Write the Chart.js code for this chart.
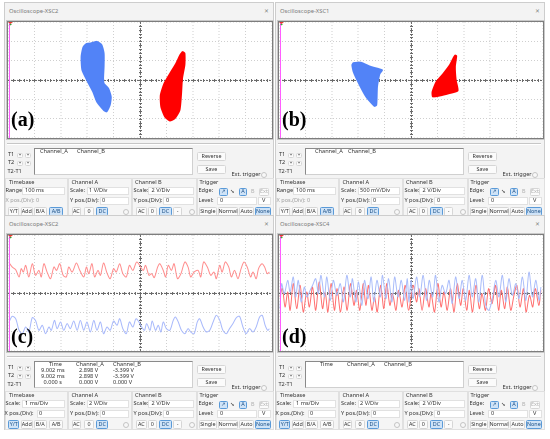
<!DOCTYPE html>
<html>
<head>
<meta charset="utf-8">
<script src="https://cdn.jsdelivr.net/npm/chart.js@4.4.1/dist/chart.umd.min.js"></script>
<style>
body { margin:0; background:#fff; width:550px; height:439px; overflow:hidden; font-family:"Noto Sans","DejaVu Sans",sans-serif; }
#root { position:relative; width:550px; height:439px; }
.panel { position:absolute; width:276px; height:219px; }
.win { position:absolute; box-sizing:border-box; background:#f3f3f3; border:1px solid #cdcdcd; }
.t { position:absolute; font-size:5.6px; line-height:1; color:#333; white-space:nowrap; }
.ttl { color:#7a7a7a; font-size:5.8px; }
.gray { color:#a0a0a0; }
.box { position:absolute; box-sizing:border-box; background:#fff; border:1px solid #e1e1e1; }
.grp { position:absolute; box-sizing:border-box; border:1px solid #e0e0e0; background:#f5f5f5; }
.read { position:absolute; box-sizing:border-box; background:#fff; border:1px solid #d0d0d0; border-left:1.5px solid #8a8a8a; border-top:1.5px solid #8a8a8a; }
.btn { position:absolute; box-sizing:border-box; background:#fbfbfb; border:1px solid #d6d6d6; border-radius:1.5px; font-size:5.4px; line-height:1; color:#333; display:flex; align-items:center; justify-content:center; white-space:nowrap; }
.btn.on { background:#cfe3f7; border-color:#5a9ad8; color:#1b4f86; }
.btn.off { color:#b0b0b0; }
.btn.flat { border-color:transparent; background:transparent; }
.circ { position:absolute; box-sizing:border-box; width:6px; height:6px; border-radius:50%; border:1px solid #c4c4c4; background:#f8f8f8; }
.sep { position:absolute; height:0; border-top:1px solid #c6c6c6; border-bottom:1px solid #fff; }
.scr { position:absolute; background:#fff; border:1px solid #7d7d7d; box-shadow:0 0 0 1px #c9c9c9; }
.scr canvas { display:block; }
.letter { position:absolute; font-family:"Liberation Serif","DejaVu Serif",serif; font-weight:bold; font-size:20px; line-height:1; color:#000; }
</style>
</head>
<body>
<div id="root"></div>
<script>
// (a) phase portrait, XSC2 - outlines in screen divisions
var aBlueX = [-1.89, -1.64, -1.45, -1.36, -1.36, -1.38, -1.36, -1.19, -1.09, -1.13, -1.26, -1.38, -1.64, -1.79, -1.99, -2.20, -2.23, -2.16, -2.04];
var aBlueY = [1.91, 2.0, 1.83, 1.39, 0.70, 0.09, -0.17, -0.43, -0.87, -1.30, -1.65, -1.57, -1.13, -0.61, -0.09, 0.52, 1.22, 1.70, 1.88];
var aRedX = [1.61, 1.70, 1.70, 1.61, 1.57, 1.51, 1.32, 1.13, 0.94, 0.79, 0.77, 0.91, 1.13, 1.36, 1.51];
var aRedY = [1.48, 1.39, 0.78, 0.09, -0.78, -1.57, -2.0, -2.12, -1.91, -1.39, -0.78, -0.17, 0.35, 0.87, 1.30];

// (b) phase portrait, XSC1
var bBlueX = [-2.19, -1.90, -1.52, -1.08, -1.18, -1.27, -1.30, -1.39, -1.71, -1.99, -2.19, -2.24];
var bBlueY = [0.90, 0.92, 0.70, 0.52, 0.31, -0.35, -1.30, -1.36, -0.87, -0.17, 0.43, 0.78];
var bRedX = [1.67, 1.73, 1.68, 1.71, 1.78, 1.46, 1.08, 0.82, 0.80, 0.95, 1.20, 1.46, 1.61];
var bRedY = [1.30, 1.25, 0.70, 0, -0.56, -0.70, -0.83, -0.87, -0.61, -0.09, 0.31, 0.78, 1.18];

// (c) time series, ms / V
var cRedT = [0.04, 0.16, 0.29, 0.42, 0.50, 0.58, 0.67, 0.79, 0.92, 1.04, 1.17, 1.26, 1.36, 1.48, 1.61, 1.74, 1.84, 1.96, 2.09, 2.21, 2.30, 2.43, 2.59, 2.72, 2.87, 2.97, 3.06, 3.18, 3.28, 3.41, 3.50, 3.62, 3.75, 3.87, 4.00, 4.10, 4.23, 4.35, 4.48, 4.60, 4.73, 4.88,
  5.12, 5.21, 5.34, 5.44, 5.54, 5.67, 5.75, 5.88, 5.97, 6.07, 6.19, 6.29, 6.42, 6.55, 6.70, 6.82, 6.92, 7.05, 7.20, 7.30, 7.41, 7.55, 7.68, 7.80, 7.89, 8.02, 8.11, 8.23, 8.36, 8.46, 8.58, 8.71, 8.83, 8.94, 9.06, 9.19, 9.28, 9.40, 9.49, 9.62, 9.72, 9.82, 9.90];
var cRedV = [3.14, 2.69, 2.41, 1.66, 2.52, 2.17, 2.86, 1.66, 3.03, 1.83, 2.34, 1.66, 3.03, 2.17, 1.48, 2.69, 2.34, 3.03, 1.83, 1.66, 2.69, 2.17, 3.10, 2.34, 1.66, 2.69, 2.0, 3.03, 1.66, 2.34, 1.83, 3.10, 2.07, 1.48, 2.52, 2.17, 3.03, 2.0, 1.66, 2.86, 2.34, 3.21,
  2.34, 2.86, 1.83, 2.0, 1.59, 2.69, 3.03, 2.34, 1.66, 2.86, 2.34, 3.03, 1.48, 2.0, 3.21, 2.69, 1.66, 2.17, 2.34, 1.66, 3.21, 2.69, 1.83, 2.17, 1.48, 2.86, 2.17, 3.21, 2.69, 1.66, 2.34, 1.48, 2.52, 3.21, 2.69, 1.66, 2.17, 1.48, 2.52, 3.03, 2.69, 2.0, 2.17];
var cBlueT = [0.04, 0.16, 0.29, 0.42, 0.54, 0.67, 0.79, 0.92, 1.04, 1.17, 1.30, 1.42, 1.55, 1.64, 1.76, 1.86, 1.99, 2.11, 2.24, 2.36, 2.49, 2.62, 2.74, 2.87, 2.99, 3.12, 3.25, 3.37, 3.50, 3.62, 3.75, 3.87, 4.00, 4.13, 4.23, 4.35, 4.48, 4.60, 4.73, 4.86,
  5.16, 5.25, 5.38, 5.46, 5.59, 5.69, 5.79, 5.88, 6.00, 6.13, 6.26, 6.34, 6.45, 6.57, 6.70, 6.82, 6.92, 7.05, 7.17, 7.26, 7.39, 7.51, 7.64, 7.77, 7.89, 8.02, 8.14, 8.27, 8.39, 8.52, 8.65, 8.77, 8.90, 9.02, 9.15, 9.28, 9.40, 9.53, 9.63, 9.74, 9.84, 9.90];
var cBlueV = [-3.0, -2.41, -2.66, -3.86, -4.21, -3.52, -4.03, -2.55, -2.83, -3.86, -3.34, -4.21, -3.52, -3.86, -2.83, -3.69, -3.0, -3.86, -3.17, -3.69, -2.90, -3.86, -2.83, -3.86, -3.0, -4.03, -2.83, -3.86, -3.0, -4.21, -3.52, -3.86, -2.90, -3.34, -2.66, -3.69, -4.21, -3.0, -3.52, -2.66,
  -3.86, -3.17, -3.86, -2.90, -3.86, -3.34, -4.03, -3.0, -3.69, -3.86, -2.83, -2.48, -3.0, -3.86, -4.21, -3.69, -4.03, -4.21, -3.0, -2.66, -3.52, -4.03, -3.86, -3.0, -2.31, -2.83, -3.86, -4.21, -3.69, -3.17, -2.55, -2.41, -3.52, -4.21, -3.69, -4.03, -3.52, -2.48, -2.31, -3.34, -3.86, -3.69];

// (d) time series, ms / V
var dRedT = [0.04, 0.13, 0.23, 0.33, 0.42, 0.54, 0.67, 0.80, 0.92, 1.05, 1.15, 1.27, 1.39, 1.52, 1.65, 1.75, 1.85, 1.97, 2.10, 2.20, 2.33, 2.46, 2.58, 2.71, 2.84, 2.94, 3.06, 3.19, 3.29, 3.39, 3.52, 3.62, 3.72, 3.85, 3.97, 4.08, 4.20, 4.30, 4.43, 4.53, 4.66, 4.78, 4.91,
  5.08, 5.21, 5.30, 5.42, 5.55, 5.68, 5.76, 5.89, 6.02, 6.14, 6.25, 6.37, 6.50, 6.63, 6.75, 6.88, 6.98, 7.11, 7.21, 7.33, 7.46, 7.59, 7.69, 7.82, 7.94, 8.07, 8.20, 8.32, 8.42, 8.55, 8.65, 8.78, 8.90, 9.01, 9.13, 9.26, 9.36, 9.49, 9.61, 9.71, 9.84, 9.92];
var dRedV = [-0.41, 0.45, -1.45, 0.10, -1.79, 0.97, -1.62, 0.79, -1.97, 0.10, -1.45, 0.62, -1.79, 1.14, -1.62, 0.10, -1.97, 0.97, -1.79, 0.45, -1.97, 0.62, -1.79, 0.97, -1.28, 0.28, -1.79, 0.97, -1.28, 0.79, -1.79, -0.41, -1.97, 0.79, -1.62, 0.97, -1.28, -0.07, -1.79, 0.28, -1.45, 0.79, -1.79,
  0.79, -0.93, 0.45, -1.79, 0.45, -1.45, -0.07, -1.97, 0.97, -1.45, 0.10, -1.79, 0.45, -1.97, 0.97, -1.28, 0.45, -1.79, 0.28, -1.97, 0.79, -1.62, -0.07, -1.79, 0.45, -1.10, 0.79, -1.79, 0.28, -1.62, 0.62, -1.79, -0.24, 0.79, -1.45, 0.45, -1.97, -0.24, -1.45, 0.45, -1.28, 0.28];
var dBlueT = [0.04, 0.10, 0.20, 0.33, 0.42, 0.54, 0.63, 0.73, 0.84, 0.96, 1.05, 1.18, 1.27, 1.39, 1.49, 1.59, 1.72, 1.81, 1.94, 2.06, 2.19, 2.32, 2.44, 2.57, 2.70, 2.78, 2.91, 3.01, 3.14, 3.24, 3.37, 3.49, 3.59, 3.71, 3.84, 3.92, 4.05, 4.15, 4.28, 4.38, 4.51, 4.63, 4.76, 4.86, 4.92,
  5.00, 5.08, 5.21, 5.33, 5.46, 5.59, 5.69, 5.82, 5.93, 6.06, 6.18, 6.31, 6.44, 6.56, 6.69, 6.82, 6.94, 7.07, 7.20, 7.32, 7.45, 7.57, 7.70, 7.83, 7.95, 8.08, 8.21, 8.33, 8.46, 8.59, 8.71, 8.84, 8.97, 9.09, 9.22, 9.35, 9.47, 9.60, 9.73, 9.85, 9.92];
var dBlueV = [-1.62, 0.97, -0.07, 1.31, 0.10, 1.66, -0.41, 1.31, -0.93, 0.62, -0.41, 0.28, 0.79, 1.48, -0.07, 1.83, -0.41, 1.66, -0.76, 1.31, -0.24, 0.97, -0.93, 1.83, -0.41, 1.48, -0.93, 1.14, -1.28, 1.31, -0.59, 1.66, -0.93, 1.31, -0.41, 1.83, -0.59, 1.48, -0.93, 1.66, -0.41, 1.31, -0.76, 1.48, -0.93,
  1.31, -0.59, 1.66, -0.41, 1.83, -0.76, 1.31, -0.41, 1.83, -0.93, 0.79, -0.07, 1.31, -1.10, 1.66, -0.59, 1.31, -0.76, 1.83, -0.41, 1.48, -0.93, 1.83, -1.28, -1.79, -0.59, 1.31, -0.41, 1.83, -0.93, 1.48, -0.24, 0.97, -0.59, 1.66, -0.76, 2.17, -0.41, 1.31, -0.76, 0.62];

// instrument readouts
var panelIds = ["a", "b", "c", "d"];
var titles = ["Oscilloscope-XSC2", "Oscilloscope-XSC1", "Oscilloscope-XSC2", "Oscilloscope-XSC4"];
var timebase = ["100 ms", "100 ms", "1 ms/Div", "1 ms/Div"];
var scaleA = ["1  V/Div", "500 mV/Div", "2  V/Div", "2  V/Div"];
var scaleB = ["2  V/Div", "2  V/Div", "2  V/Div", "2  V/Div"];
var modes = ["A/B", "A/B", "Y/T", "Y/T"];

function pts(xs, ys) {
  return xs.map(function (x, i) { return { x: x, y: ys[i] }; });
}
function closed(xs, ys) {
  var p = pts(xs, ys);
  p.push(p[0]);
  return p;
}

function put(p, cls, x, y, w, h, txt) {
  var d = document.createElement("div");
  d.className = cls;
  d.style.left = x + "px";
  d.style.top = y + "px";
  if (w != null) d.style.width = w + "px";
  if (h != null) d.style.height = h + "px";
  if (txt != null) d.textContent = txt;
  p.appendChild(d);
  return d;
}

// screen furniture: centre cross with small ticks, cursor line
var scopeDecor = {
  id: "scopeDecor",
  beforeDatasetsDraw: function (chart) {
    var ctx = chart.ctx, xs = chart.scales.x, ys = chart.scales.y;
    var cx = Math.round(xs.getPixelForValue((xs.min + xs.max) / 2)) + 0.5;
    var cy = Math.round(ys.getPixelForValue((ys.min + ys.max) / 2)) + 0.5;
    ctx.save();
    ctx.strokeStyle = "#6b6b6b";
    ctx.lineWidth = 1;
    ctx.setLineDash([2, 1]);
    ctx.beginPath();
    ctx.moveTo(xs.left, cy); ctx.lineTo(xs.right, cy);
    ctx.moveTo(cx, ys.top); ctx.lineTo(cx, ys.bottom);
    ctx.stroke();
    ctx.setLineDash([]);
    ctx.beginPath();
    var i, v;
    for (i = 1; i < 50; i++) {
      v = Math.round(xs.getPixelForValue(xs.min + i * (xs.max - xs.min) / 50)) + 0.5;
      ctx.moveTo(v, cy - 1.5); ctx.lineTo(v, cy + 1.5);
    }
    for (i = 1; i < 30; i++) {
      v = Math.round(ys.getPixelForValue(ys.min + i * (ys.max - ys.min) / 30)) + 0.5;
      ctx.moveTo(cx - 1.5, v); ctx.lineTo(cx + 1.5, v);
    }
    ctx.stroke();
    ctx.restore();
  },
  afterDraw: function (chart) {
    var ctx = chart.ctx, a = chart.chartArea;
    ctx.save();
    ctx.strokeStyle = "#ff5cff";
    ctx.lineWidth = 1;
    ctx.beginPath();
    ctx.moveTo(a.left + 1.5, a.top); ctx.lineTo(a.left + 1.5, a.bottom);
    ctx.stroke();
    ctx.fillStyle = "#e23a2a";
    ctx.beginPath(); ctx.moveTo(a.left, a.top); ctx.lineTo(a.left + 5, a.top); ctx.lineTo(a.left + 2.5, a.top + 2); ctx.fill();
    ctx.fillStyle = "#3aa03a";
    ctx.beginPath(); ctx.moveTo(a.left + 1, a.top + 2); ctx.lineTo(a.left + 4, a.top + 2); ctx.lineTo(a.left + 2.5, a.top + 3.5); ctx.fill();
    ctx.restore();
  }
};

function makeScope(canvas, datasets, xr, yr) {
  var gridOpt = { color: "#cfcfcf", lineWidth: 1, drawTicks: false };
  new Chart(canvas, {
    type: "line",
    data: { datasets: datasets },
    options: {
      animation: false,
      responsive: false,
      devicePixelRatio: 2,
      layout: { padding: 0 },
      plugins: { legend: { display: false }, tooltip: { enabled: false } },
      elements: { point: { radius: 0 } },
      scales: {
        x: { type: "linear", min: xr[0], max: xr[1], ticks: { display: false, stepSize: xr[2] }, grid: gridOpt, border: { display: false, dash: [1, 2] } },
        y: { type: "linear", min: yr[0], max: yr[1], ticks: { display: false, stepSize: yr[2] }, grid: gridOpt, border: { display: false, dash: [1, 2] } }
      }
    },
    plugins: [scopeDecor]
  });
}

function blob(data, color) {
  return { data: data, borderColor: color, backgroundColor: color, borderWidth: 1, fill: "shape", tension: 0.2 };
}
function trace(data, color) {
  return { data: data, borderColor: color, borderWidth: 1, fill: false, tension: 0.3 };
}

var offsets = [[0, 0], [271, 0], [0, 213], [271, 213]];
var root = document.getElementById("root");

panelIds.forEach(function (id, k) {
  var p = document.createElement("div");
  p.className = "panel";
  p.style.left = offsets[k][0] + "px";
  p.style.top = offsets[k][1] + "px";
  root.appendChild(p);

  put(p, "win", 4, 2, 270, 215);
  put(p, "t ttl", 9, 9, null, null, titles[k]);
  put(p, "t ttl", 264, 8.5, null, null, "\u2715");

  // screen
  var scr = put(p, "scr", 7, 21, 264, 116);
  var cv = document.createElement("canvas");
  cv.width = 264; cv.height = 116;
  cv.style.width = "264px"; cv.style.height = "116px";
  scr.appendChild(cv);
  put(p, "letter", 11, k < 2 ? 109 : 113, null, null, "(" + id + ")");

  put(p, "sep", 7, 142.5, 263, null);

  // cursor readout block
  put(p, "t", 8, 152.3, null, null, "T1");
  put(p, "t", 8, 159.8, null, null, "T2");
  put(p, "t", 7.5, 168.8, null, null, "T2-T1");
  [[17, 152.5], [25, 152.5], [17, 160.5], [25, 160.5]].forEach(function (q) {
    put(p, "btn", q[0], q[1], 6, 5.5, "\u2022");
  });
  put(p, "read", 34, 148, 159, 27);
  if (k === 0 || k === 1) {
    put(p, "t", k === 0 ? 40 : 44, 149, null, null, "Channel_A");
    put(p, "t", 77, 149, null, null, "Channel_B");
  } else {
    put(p, "t", 49, 148.8, null, null, "Time");
    put(p, "t", 76, 148.8, null, null, "Channel_A");
    put(p, "t", 113, 148.8, null, null, "Channel_B");
    if (k === 2) {
      put(p, "t", 41, 154.5, null, null, "9.002 ms");
      put(p, "t", 79, 154.5, null, null, "2.898 V");
      put(p, "t", 113, 154.5, null, null, "-3.399 V");
      put(p, "t", 41, 160.8, null, null, "9.002 ms");
      put(p, "t", 79, 160.8, null, null, "2.898 V");
      put(p, "t", 113, 160.8, null, null, "-3.399 V");
      put(p, "t", 43.5, 167.2, null, null, "0.000 s");
      put(p, "t", 79, 167.2, null, null, "0.000 V");
      put(p, "t", 113, 167.2, null, null, "0.000 V");
    }
  }
  put(p, "btn", 197, 151.5, 29, 9.5, "Reverse");
  put(p, "btn", 197, 165, 29, 9, "Save");
  put(p, "t", 231.5, 172.3, null, null, "Ext. trigger");
  put(p, "circ", 260.5, 171.5);

  // control groups
  put(p, "grp", 4.5, 178, 63, 39);
  put(p, "grp", 67.5, 178, 64, 39);
  put(p, "grp", 131.5, 178, 65, 39);
  put(p, "grp", 196.5, 178, 77, 39);
  put(p, "t", 9, 180.2, null, null, "Timebase");
  put(p, "t", 71.5, 180.2, null, null, "Channel A");
  put(p, "t", 135, 180.2, null, null, "Channel B");
  put(p, "t", 199.5, 180.2, null, null, "Trigger");

  put(p, "t", 5.5, 188.3, null, null, k < 2 ? "Range:" : "Scale:");
  put(p, "box", 21.7, 186.7, 43.3, 8.3);
  put(p, "t", 25, 188.3, null, null, timebase[k]);
  put(p, "t", 70, 188.3, null, null, "Scale:");
  put(p, "box", 87.3, 186.7, 42, 8.3);
  put(p, "t", 89, 188.3, null, null, scaleA[k]);
  put(p, "t", 133.5, 188.3, null, null, "Scale:");
  put(p, "box", 148, 186.7, 46, 8.3);
  put(p, "t", 151.5, 188.3, null, null, scaleB[k]);
  put(p, "t", 198.5, 188.3, null, null, "Edge:");
  put(p, "btn on", 219, 188, 8.7, 8, "\u2197");
  put(p, "btn flat", 228.7, 188, 7.3, 8, "\u2198");
  put(p, "btn on", 239, 188, 8, 8, "A");
  put(p, "btn flat off", 249, 188, 7.7, 8, "B");
  put(p, "btn off", 259, 188, 10, 8, "Ext");

  if (k < 2) {
    put(p, "t gray", 5.5, 198.3, null, null, "X pos.(Div):  0");
  } else {
    put(p, "t", 4.5, 198.3, null, null, "X pos.(Div):");
    put(p, "box", 36.5, 196.8, 28.5, 8.3);
    put(p, "t", 39, 198.3, null, null, "0");
  }
  put(p, "t", 70, 198.3, null, null, "Y pos.(Div):");
  put(p, "box", 100, 196.8, 29.3, 8.3);
  put(p, "t", 102, 198.3, null, null, "0");
  put(p, "t", 133.5, 198.3, null, null, "Y pos.(Div):");
  put(p, "box", 163, 196.8, 31, 8.3);
  put(p, "t", 166, 198.3, null, null, "0");
  put(p, "t", 198.5, 198.3, null, null, "Level:");
  put(p, "box", 216.7, 196.8, 40, 8.3);
  put(p, "t", 220, 198.3, null, null, "0");
  put(p, "box", 258, 196.8, 12.5, 8.3);
  put(p, "t", 262, 198.3, null, null, "V");

  [["Y/T", 8.3, 11], ["Add", 20.7, 12], ["B/A", 34, 12.7], ["A/B", 49, 14.3]].forEach(function (b) {
    put(p, "btn" + (b[0] === modes[k] ? " on" : ""), b[1], 207, b[2], 8.7, b[0]);
  });
  put(p, "btn", 71.7, 207, 9.3, 8.7, "AC");
  put(p, "btn", 84, 207, 10, 8.7, "0");
  put(p, "btn on", 96, 207, 12.3, 8.7, "DC");
  put(p, "circ", 123, 208.5);
  put(p, "btn", 136, 207, 10.7, 8.7, "AC");
  put(p, "btn", 148, 207, 8.7, 8.7, "0");
  put(p, "btn on", 159, 207, 13, 8.7, "DC");
  put(p, "btn", 173, 207, 9, 8.7, "-");
  put(p, "circ", 188.5, 208.5);
  put(p, "btn", 199, 207, 17.7, 8.7, "Single");
  put(p, "btn", 218, 207, 20, 8.7, "Normal");
  put(p, "btn", 239, 207, 15, 8.7, "Auto");
  put(p, "btn on", 255, 207, 15.7, 8.7, "None");

  // plot data on the screen
  var blue = "#5283f7", red = "#ff0000";
  if (id === "a") {
    makeScope(cv, [blob(closed(aBlueX, aBlueY), blue), blob(closed(aRedX, aRedY), red)], [-5, 5, 1], [-3, 3, 1]);
  } else if (id === "b") {
    makeScope(cv, [blob(closed(bBlueX, bBlueY), blue), blob(closed(bRedX, bRedY), red)], [-5, 5, 1], [-3, 3, 1]);
  } else if (id === "c") {
    makeScope(cv, [trace(pts(cRedT, cRedV), "#ff8c8c"), trace(pts(cBlueT, cBlueV), "#a7b8fb")], [0, 10, 1], [-6, 6, 2]);
  } else {
    makeScope(cv, [trace(pts(dBlueT, dBlueV), "#a9bcfa"), trace(pts(dRedT, dRedV), "#ff6f6f")], [0, 10, 1], [-6, 6, 2]);
  }
});
</script>
</body>
</html>
